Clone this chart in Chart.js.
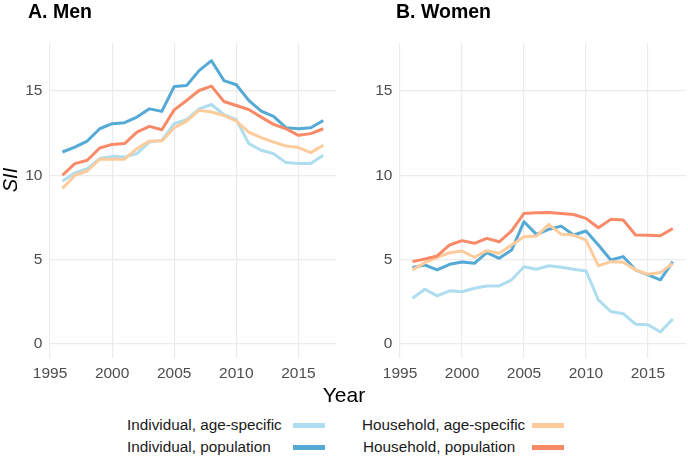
<!DOCTYPE html>
<html>
<head>
<meta charset="utf-8">
<script src="https://cdn.jsdelivr.net/npm/chart.js@4.4.1/dist/chart.umd.min.js"></script>
<style>
  html, body { margin:0; padding:0; background:#fff; }
  #wrap { position:relative; width:688px; height:458px; background:#fff; overflow:hidden; font-family:"Liberation Sans", Arial, sans-serif; }
  .pane { position:absolute; top:0; }
  .ttl { position:absolute; font-weight:bold; font-size:19.5px; line-height:22px; color:#000; white-space:nowrap; }
  .leg { position:absolute; font-size:15.3px; line-height:18px; color:#1a1a1a; white-space:nowrap; }
  .key { position:absolute; width:32px; height:5px; }
</style>
</head>
<body>
<div id="wrap">
  <canvas id="men" class="pane" width="344" height="390" style="left:0px"></canvas>
  <canvas id="women" class="pane" width="344" height="390" style="left:344px"></canvas>
  <div class="ttl" style="left:28px;top:0px">A. Men</div>
  <div class="ttl" style="left:396px;top:0px">B. Women</div>
  <div style="position:absolute;left:-10px;top:168px;width:40px;height:24px;line-height:24px;text-align:center;font-size:20px;font-style:italic;color:#000;transform:rotate(-90deg);">SII</div>
  <div style="position:absolute;left:0;width:688px;top:383px;line-height:24px;text-align:center;font-size:21px;color:#000;">Year</div>
  <div id="legend"></div>
</div>
<script>
const years = [1996,1997,1998,1999,2000,2001,2002,2003,2004,2005,2006,2007,2008,2009,2010,2011,2012,2013,2014,2015,2016,2017];
const xTicks = [1995, 2000, 2005, 2010, 2015];
const yTicks = [0, 5, 10, 15];
const seriesNames = ["Individual, age-specific", "Individual, population", "Household, age-specific", "Household, population"];
const seriesColors = ["#ADDDEF", "#54A9D5", "#FDCB9C", "#F88A68"];

// Men
const menIndAge = [9.64,10.14,10.39,10.99,11.12,11.08,11.28,11.97,12.07,13.06,13.30,13.94,14.20,13.59,13.30,11.88,11.48,11.28,10.75,10.69,10.69,11.18];
const menIndPop = [11.38,11.67,12.03,12.76,13.06,13.12,13.45,13.94,13.79,15.27,15.33,16.21,16.80,15.62,15.37,14.44,13.80,13.49,12.82,12.76,12.82,13.25];
const menHhAge  = [9.21,10.00,10.25,10.95,10.95,10.95,11.58,12.03,12.03,12.82,13.21,13.85,13.75,13.55,13.21,12.56,12.23,11.97,11.73,11.64,11.34,11.78];
const menHhPop  = [10.00,10.69,10.89,11.62,11.83,11.88,12.56,12.90,12.70,13.88,14.44,15.03,15.29,14.38,14.14,13.90,13.45,13.02,12.76,12.37,12.47,12.76];

// Women
const womenIndAge = [2.70,3.23,2.84,3.14,3.08,3.29,3.43,3.43,3.79,4.57,4.42,4.63,4.54,4.42,4.32,2.60,1.91,1.78,1.16,1.12,0.69,1.46];
const womenIndPop = [4.52,4.67,4.38,4.71,4.85,4.77,5.40,5.07,5.56,7.24,6.49,6.79,6.98,6.45,6.69,5.86,4.97,5.17,4.38,4.08,3.79,4.87];
const womenHhAge  = [4.38,4.81,5.13,5.40,5.50,5.13,5.52,5.37,5.86,6.35,6.39,7.08,6.49,6.45,6.15,4.62,4.87,4.83,4.38,4.12,4.22,4.77];
const womenHhPop  = [4.87,5.03,5.21,5.86,6.12,5.96,6.25,6.05,6.69,7.73,7.77,7.79,7.73,7.67,7.44,6.88,7.38,7.34,6.45,6.43,6.41,6.84];

function makeDatasets(arrs) {
  // ggplot draws later groups on top; Chart.js draws index 0 on top, so use order
  return arrs.map((arr, i) => ({
    label: seriesNames[i],
    data: years.map((y, j) => ({ x: y, y: arr[j] })),
    borderColor: seriesColors[i],
    backgroundColor: seriesColors[i],
    borderWidth: 3,
    pointRadius: 0,
    tension: 0,
    fill: false,
    order: 4 - i,
    borderJoinStyle: 'round'
  }));
}

function makeChart(id, arrs, yAxisWidth, rightPad) {
  return new Chart(document.getElementById(id), {
    type: 'line',
    data: { datasets: makeDatasets(arrs) },
    options: {
      responsive: false,
      animation: false,
      events: [],
      layout: { padding: { top: 43, right: rightPad, left: 0, bottom: 0 } },
      plugins: { legend: { display: false }, tooltip: { enabled: false }, title: { display: false } },
      scales: {
        x: {
          type: 'linear',
          min: 1994.95,
          max: 2018.05,
          afterBuildTicks: (s) => { s.ticks = xTicks.map(v => ({ value: v })); },
          afterFit: (s) => { s.height = 32; },
          grid: { color: '#EBEBEB', lineWidth: 1.2, drawTicks: false },
          border: { display: false },
          ticks: { color: '#4D4D4D', font: { family: 'Liberation Sans', size: 15.5 }, padding: 6, maxRotation: 0, autoSkip: false, callback: (v) => String(v) }
        },
        y: {
          type: 'linear',
          min: -0.85,
          max: 17.85,
          afterBuildTicks: (s) => { s.ticks = yTicks.map(v => ({ value: v })); },
          afterFit: (s) => { s.width = yAxisWidth; },
          grid: { color: '#EBEBEB', lineWidth: 1.2, drawTicks: false },
          border: { display: false },
          ticks: { color: '#4D4D4D', font: { family: 'Liberation Sans', size: 15.5 }, padding: 7, callback: (v) => String(v) }
        }
      }
    }
  });
}

makeChart('men', [menIndAge, menIndPop, menHhAge, menHhPop], 49.4, 7.7);
makeChart('women', [womenIndAge, womenIndPop, womenHhAge, womenHhPop], 55.4, 2.2);

// shared legend
const legendPos = [
  { tx: 127, kx: 293, cy: 425 },
  { tx: 127, kx: 293, cy: 447 },
  { tx: 362, kx: 532, cy: 425 },
  { tx: 363, kx: 532, cy: 447 }
];
const legend = document.getElementById('legend');
seriesNames.forEach((name, i) => {
  const p = legendPos[i];
  const t = document.createElement('div');
  t.className = 'leg';
  t.style.left = p.tx + 'px';
  t.style.top = (p.cy - 9) + 'px';
  t.textContent = name;
  legend.appendChild(t);
  const k = document.createElement('div');
  k.className = 'key';
  k.style.left = p.kx + 'px';
  k.style.top = (p.cy - 2.5) + 'px';
  k.style.background = seriesColors[i];
  legend.appendChild(k);
});
</script>
</body>
</html>
